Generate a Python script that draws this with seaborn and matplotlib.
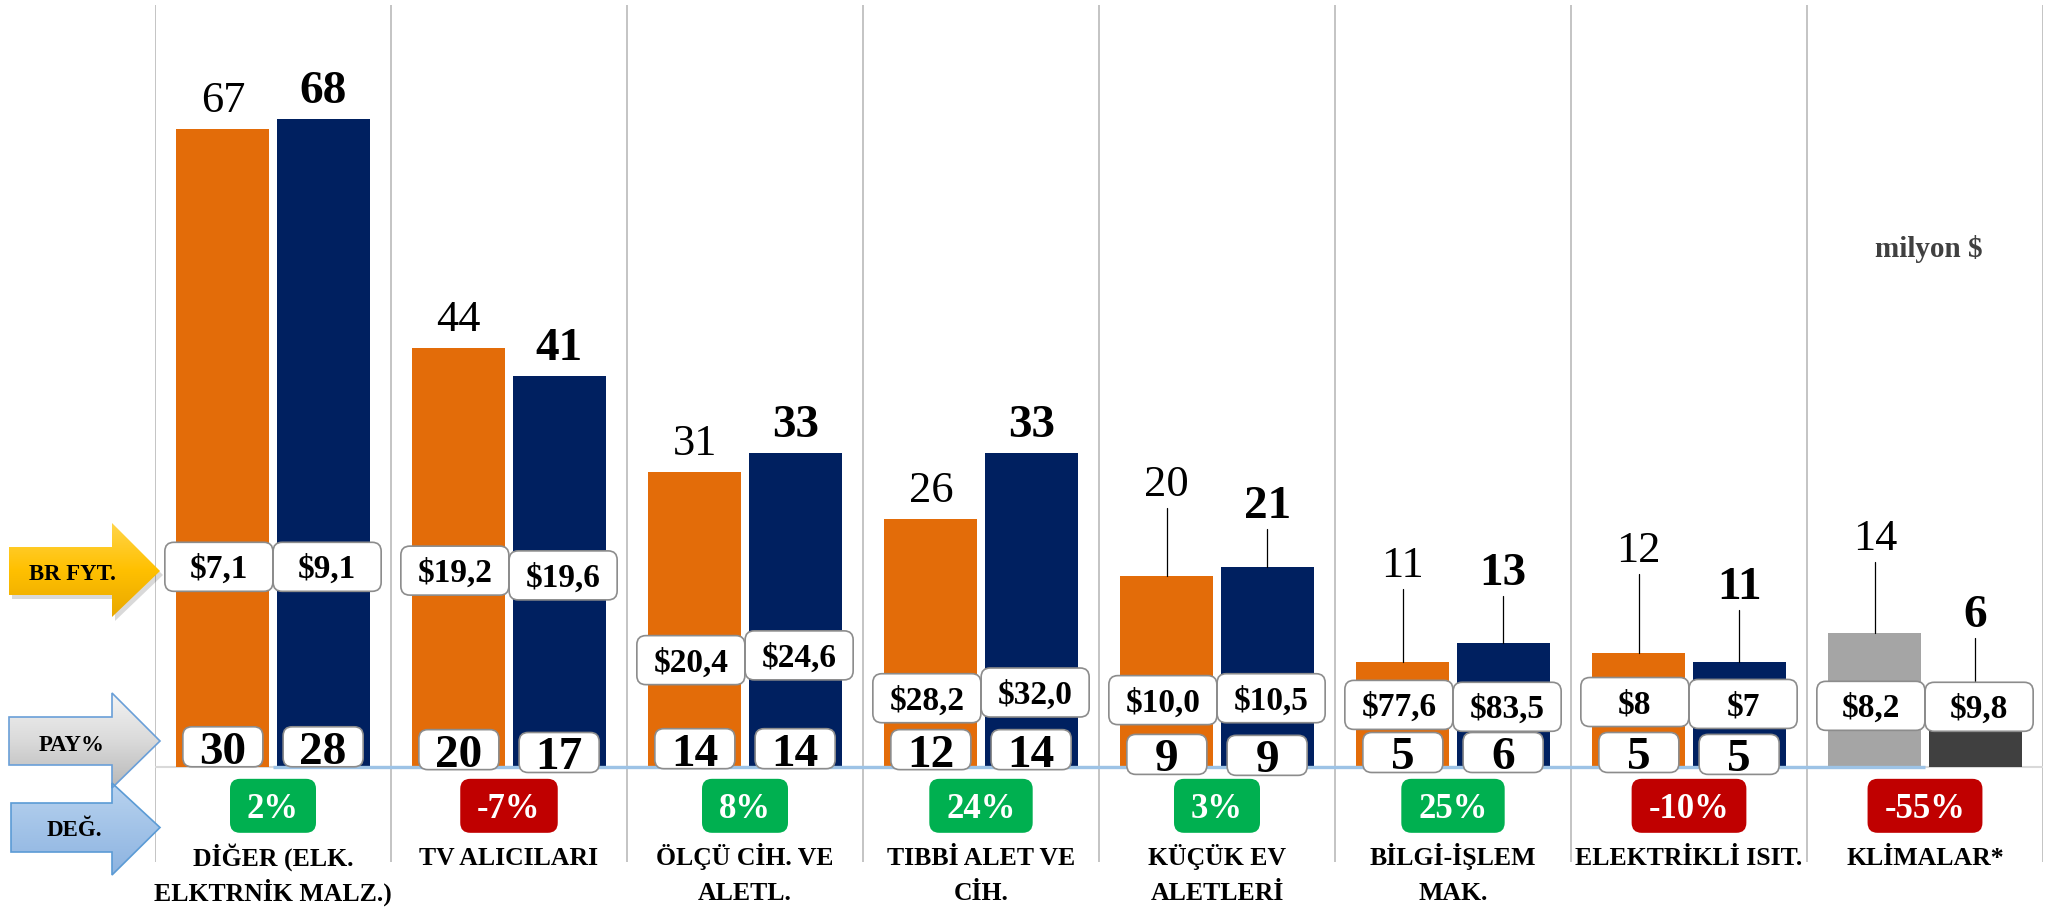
import numpy as np
import pandas as pd
import matplotlib
matplotlib.use("Agg")
import matplotlib.pyplot as plt
import matplotlib.transforms as mtrans
from matplotlib.patches import FancyBboxPatch, Polygon
from matplotlib.colors import LinearSegmentedColormap
import seaborn as sns

# ---------------- data ----------------
categories = ["DİĞER (ELK.\nELKTRNİK MALZ.)", "TV ALICILARI", "ÖLÇÜ CİH. VE\nALETL.",
              "TIBBİ ALET VE\nCİH.", "KÜÇÜK EV\nALETLERİ", "BİLGİ-İŞLEM\nMAK.",
              "ELEKTRİKLİ ISIT.", "KLİMALAR*"]
periods = ["Önceki dönem", "Son dönem"]
values_prev = [67, 44, 31, 26, 20, 11, 12, 14]
values_curr = [68, 41, 33, 33, 21, 13, 11, 6]
price_prev = ["$7,1", "$19,2", "$20,4", "$28,2", "$10,0", "$77,6", "$8", "$8,2"]
price_curr = ["$9,1", "$19,6", "$24,6", "$32,0", "$10,5", "$83,5", "$7", "$9,8"]
share_prev = [30, 20, 14, 12, 9, 5, 5, None]
share_curr = [28, 17, 14, 14, 9, 6, 5, None]
change_pct = [2, -7, 8, 24, 3, 25, -10, -55]
unit_note = "milyon $"
row_labels = ["BR FYT.", "PAY%", "DEĞ."]

# ---------------- layout (label placement, data units) ----------------
PRICE_Y = [(21.0, 21.0), (20.6, 20.1), (11.2, 11.7), (7.2, 7.8),
           (7.0, 7.2), (6.5, 6.3), (6.8, 6.6), (6.4, 6.3)]
SHARE_Y = [(2.1, 2.1), (1.8, 1.5), (1.9, 1.9), (1.8, 1.8),
           (1.3, 1.2), (1.5, 1.5), (1.5, 1.3), (None, None)]
CALLOUT_Y = [(None, None)] * 4 + [(30.0, 27.8), (21.5, 20.8), (23.1, 19.3), (24.3, 16.4)]

W, H, DPI = 2047, 908, 100
ORANGE, NAVY = "#E36C09", "#002060"
GRAY_A, GRAY_B = "#A5A5A5", "#404040"
GREEN, RED = "#00B050", "#C00000"

sns.set_theme(style="white")
plt.rcParams["font.family"] = ["Liberation Serif", "DejaVu Serif"]

fig = plt.figure(figsize=(W / DPI, H / DPI), dpi=DPI)
fig.patch.set_facecolor("white")
ax = fig.add_axes([155 / W, 1 - 862 / H, (2043 - 155) / W, (862 - 5) / H])

df = pd.DataFrame({
    "cat": categories * 2,
    "period": [periods[0]] * len(categories) + [periods[1]] * len(categories),
    "value": values_prev + values_curr,
})
sns.barplot(data=df, x="cat", y="value", hue="period", order=categories,
            hue_order=periods, palette=[ORANGE, NAVY], saturation=1,
            width=0.85, gap=0.073, legend=False, ax=ax, zorder=2)

YLIM = (-10, 80)
ax.set_xlim(-0.5, len(categories) - 0.5)
ax.set_ylim(*YLIM)
ax.set_xticks([])
ax.set_yticks([])
ax.set_xlabel("")
ax.set_ylabel("")
for s in ax.spines.values():
    s.set_visible(False)

# category dividers
ax.vlines(np.arange(len(categories) + 1) - 0.5, YLIM[0], YLIM[1],
          color="#BFBFBF", lw=1.3, zorder=0.5)
# baseline
ax.axhline(0, color="#D9D9D9", lw=1.5, zorder=1.5)
ax.plot([0, len(categories) - 1], [0, 0], color="#9DC3E6", lw=2.4, zorder=2.5,
        solid_capstyle="butt")

bars_prev = list(ax.containers[0])
bars_curr = list(ax.containers[1])
bars_prev[-1].set_facecolor(GRAY_A)
bars_curr[-1].set_facecolor(GRAY_B)
for b in bars_prev + bars_curr:
    b.set_edgecolor("none")

ppu_y = ax.bbox.height / (YLIM[1] - YLIM[0])


def pt2px(pt):
    return pt * DPI / 72.0


def text_at(x, y, s, fs, weight="normal", color="black", dy_px=0.0, z=6,
            digit_ratio=0.338, dx_px=0.0):
    off = mtrans.ScaledTranslation(dx_px / DPI, (dy_px - digit_ratio * pt2px(fs)) / DPI,
                                   fig.dpi_scale_trans)
    return ax.text(x, y, s, fontsize=fs, fontweight=weight, color=color,
                   ha="center", va="baseline", transform=ax.transData + off,
                   zorder=z, clip_on=False)


def rbox(x, y, w_px, h_px, fc="white", ec="#8C8C8C", lw=1.2, r_px=9, z=4, dx_px=0.0):
    cx, cy = ax.transData.transform((x, y))
    cx += dx_px
    w, h = w_px / DPI, h_px / DPI
    p = FancyBboxPatch((cx / DPI - w / 2, cy / DPI - h / 2), w, h,
                       boxstyle=f"round,pad=0,rounding_size={r_px / DPI}",
                       transform=fig.dpi_scale_trans, fc=fc, ec=ec, lw=lw,
                       zorder=z, clip_on=False)
    ax.add_patch(p)
    return p


renderer = fig.canvas.get_renderer()

for i in range(len(categories)):
    pair = [(bars_prev[i], values_prev[i], price_prev[i], share_prev[i], "normal", -4),
            (bars_curr[i], values_curr[i], price_curr[i], share_curr[i], "bold", 4)]
    for k, (bar, val, price, share, wt, pdx) in enumerate(pair):
        xc = bar.get_x() + bar.get_width() / 2
        top = bar.get_height()
        cy = CALLOUT_Y[i][k]
        fs_val = 32 if wt == "normal" else 34
        if cy is None:
            text_at(xc, top, f"{val}", fs_val, weight=wt, dy_px=32, z=7)
        else:
            text_at(xc, cy, f"{val}", fs_val, weight=wt, z=7)
            ax.plot([xc, xc], [cy - 27 / ppu_y, top], color="black", lw=0.9, zorder=3)
        # unit price box
        rbox(xc, PRICE_Y[i][k], 108, 49, z=4, dx_px=pdx)
        text_at(xc, PRICE_Y[i][k], price, 24, weight="bold", z=4.5, dx_px=pdx)
        # share box
        if share is not None:
            rbox(xc, SHARE_Y[i][k], 80, 40, z=5)
            text_at(xc, SHARE_Y[i][k], f"{share}", 34, weight="bold", dy_px=-1, z=5.5)

    # change box
    chg_y = -4.1
    t = text_at(i, chg_y, f"{change_pct[i]}%", 25, weight="bold", color="white", z=5.5)
    tw = t.get_window_extent(renderer).width
    rbox(i, chg_y, tw + 34, 54, fc=GREEN if change_pct[i] >= 0 else RED, ec="none",
         r_px=10, z=5)

    # category label lines
    for k, line in enumerate(categories[i].split("\n")):
        text_at(i, YLIM[0], line, 18.5, weight="bold", dy_px=5 - 35 * k,
                digit_ratio=0.33, z=6)

# unit note
fig.text(1929 / W, 1 - 249 / H, unit_note, ha="center", va="center",
         fontsize=21, fontweight="bold", color="#404040")

# ---------------- left row arrows ----------------
ov = fig.add_axes([0, 0, 1, 1], zorder=3)
ov.set_xlim(0, W)
ov.set_ylim(H, 0)
ov.axis("off")
ov.patch.set_alpha(0)


def arrow_pts(x0, yb0, yb1, yh0, yh1, xh=112, xt=160):
    ym = (yb0 + yb1) / 2
    return [(x0, yb0), (xh, yb0), (xh, yh0), (xt, ym), (xh, yh1), (xh, yb1), (x0, yb1)]


arrows = [
    (arrow_pts(9, 547, 595, 523, 617), ("#FFD54A", "#FFC000", "#E9A800"), "none", True, (72, 572)),
    (arrow_pts(9, 717, 765, 693, 788), ("#F4F4F4", "#DADADA", "#B8B8B8"), "#6A9FD8", False, (72, 743)),
    (arrow_pts(11, 803, 852, 783, 875), ("#B9D3EF", "#A2C3E8", "#8DB3E0"), "#5B9BD5", False, (74, 828)),
]
grad = np.linspace(0, 1, 256).reshape(-1, 1)
for (pts, cols, ec, shadow, (tx, ty)), lab in zip(arrows, row_labels):
    if shadow:
        sh = Polygon([(x + 3, y + 4) for x, y in pts], closed=True, fc="black",
                     ec="none", alpha=0.15, zorder=1)
        ov.add_patch(sh)
    poly = Polygon(pts, closed=True, fc="none", ec=ec, lw=1.2, zorder=3)
    ov.add_patch(poly)
    xs = [p[0] for p in pts]
    ys = [p[1] for p in pts]
    cmap = LinearSegmentedColormap.from_list("g", list(cols))
    im = ov.imshow(grad, cmap=cmap, extent=(min(xs), max(xs), max(ys), min(ys)),
                   origin="upper", aspect="auto", zorder=2, interpolation="bilinear")
    im.set_clip_path(poly)
    ov.text(tx, ty + 0.33 * pt2px(16.5), lab, ha="center", va="baseline",
            fontsize=16.5, fontweight="bold", color="black", zorder=4)
ov.set_xlim(0, W)
ov.set_ylim(H, 0)

fig.savefig("out.png", dpi=DPI, facecolor="white")
